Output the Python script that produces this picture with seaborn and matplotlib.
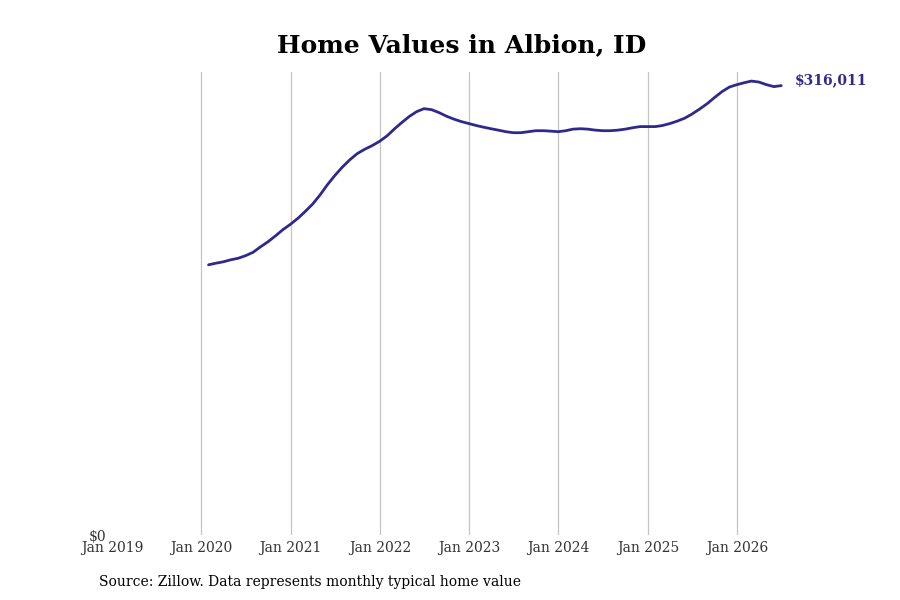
import numpy as np
import pandas as pd
import matplotlib.pyplot as plt
import matplotlib.dates as mdates
import seaborn as sns

# --- Data (monthly typical home value) ---
START_MONTH = "2020-01-31"
home_values = [
    190000, 191100, 192100, 193500, 194600, 196400, 198800, 202700, 206200, 210400, 214700, 218500,  # 2020
    222800, 227300, 232600, 238900, 246300, 252700, 258700, 263900, 268200, 271300, 273800, 276900,  # 2021
    280800, 285400, 290000, 294200, 297700, 299800, 299100, 297000, 294500, 292400, 290700, 289300,  # 2022
    287900, 286800, 285700, 284700, 283600, 282900, 282900, 283600, 284300, 284300, 284000, 283600,  # 2023
    284300, 285400, 285700, 285400, 284700, 284300, 284300, 284700, 285400, 286400, 287200, 287200,  # 2024
    287200, 287900, 289300, 291000, 293100, 296000, 299500, 303300, 307600, 311800, 315000, 316700,  # 2025
    318100, 319200, 318500, 316700, 315300, 316011,                                                  # 2026
]
dates = pd.date_range(START_MONTH, periods=len(home_values), freq="ME")
df = pd.DataFrame({"date": dates, "value": home_values})

LINE_COLOR = "#2e2a8c"
TITLE = "Home Values in Albion, ID"
SOURCE = "Source: Zillow. Data represents monthly typical home value"

# --- Plot ---
sns.set_style("white")
plt.rcParams["font.family"] = ["DejaVu Serif"]

fig = plt.figure(figsize=(9, 6), dpi=100)
ax = fig.add_axes([0.1244, 0.1083, 0.7776, 0.7717])

sns.lineplot(data=df, x="date", y="value", ax=ax, color=LINE_COLOR, linewidth=2)

ax.set_xlim(pd.Timestamp("2019-01-01"), pd.Timestamp("2026-11-02"))
ax.set_ylim(0, max(home_values) * 1.02)

ax.xaxis.set_major_locator(mdates.YearLocator())
ax.xaxis.set_major_formatter(mdates.DateFormatter("%b %Y"))
ax.set_yticks([0])
ax.set_yticklabels(["$0"])

ax.tick_params(axis="x", length=0, pad=4, labelsize=10, colors="#333333")
ax.tick_params(axis="y", length=0, pad=4, labelsize=10, colors="#333333")

ax.grid(axis="x", color="#c4c4c4", linewidth=0.9)
ax.grid(axis="y", visible=False)
sns.despine(ax=ax, left=True, bottom=True)
ax.set_xlabel("")
ax.set_ylabel("")

# no gridline on the left edge (Jan 2019)
fig.canvas.draw()
ax.xaxis.get_major_ticks()[0].gridline.set_visible(False)

# Last value label
last_val = home_values[-1]
ax.annotate(f"${last_val:,}", xy=(df["date"].iloc[-1], last_val),
            xytext=(10, 4), textcoords="offset points",
            fontsize=10, fontweight="bold", color=LINE_COLOR,
            va="center", ha="left", annotation_clip=False)

fig.text(0.513, 0.925, TITLE, ha="center", va="center",
         fontsize=18, fontweight="bold", color="black")
fig.text(0.11, 0.03, SOURCE, ha="left", va="center", fontsize=10, color="black")

fig.savefig("out.png", dpi=100)
